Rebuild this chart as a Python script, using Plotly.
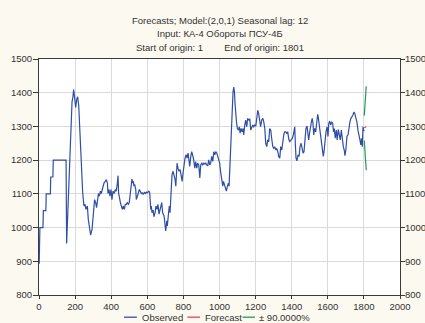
import plotly.graph_objects as go

obs_t = [1, 3, 5, 22, 24, 38, 40, 63, 65, 77, 79, 150, 153, 160, 168, 175, 183, 188, 192, 196,
         203, 209, 214, 220, 225, 231, 236, 242, 249, 255, 260, 268, 273, 279, 286, 294, 301, 308,
         314, 319, 325, 329, 334, 340, 345, 353, 360, 367, 373, 379, 382, 388, 393, 399, 404, 410,
         416, 423, 428, 434, 438, 441, 445, 451, 456, 462, 467, 473, 478, 484, 489, 495, 500, 506,
         512, 515, 519, 523, 526, 530, 536, 539, 545, 550, 556, 561, 567, 572, 578, 584, 589, 595,
         600, 608, 613, 619, 622, 626, 632, 637, 643, 648, 654, 659, 665,
         671, 680, 685, 693, 698, 702, 708, 711, 717, 722, 726, 732, 737, 743, 748, 754, 758, 761,
         765, 770, 776, 782, 787, 793, 798, 804, 809, 815, 820, 826, 831, 835, 841, 846, 852, 857,
         863, 868, 874, 879, 885, 891, 896, 902, 907, 913, 918, 924, 929, 935, 940, 946, 951, 957,
         963, 968, 974, 979, 985, 990, 996, 1001, 1007, 1012, 1018, 1022, 1027, 1033, 1038, 1044,
         1049, 1053, 1057, 1060, 1064, 1068, 1072, 1075, 1079, 1083, 1086, 1090, 1094, 1099, 1105,
         1110, 1114, 1120, 1125, 1131, 1134, 1140, 1145, 1151, 1156, 1162, 1168, 1173, 1179, 1184,
         1190, 1195, 1201, 1206, 1212, 1217, 1223, 1228, 1234, 1240, 1245, 1251, 1256, 1262, 1267,
         1273, 1278, 1284, 1289, 1295, 1301, 1306, 1312, 1317, 1323, 1328, 1334, 1339, 1345, 1350,
         1356, 1361, 1367, 1373, 1378, 1384, 1389,
         1394, 1404, 1409, 1417, 1420, 1424, 1429, 1435, 1441, 1446, 1452, 1457, 1463, 1468, 1474,
         1479, 1485, 1488, 1494, 1500, 1505, 1511, 1514, 1518, 1522, 1527, 1533, 1538, 1544, 1547,
         1553, 1558, 1564, 1570, 1575, 1579, 1584, 1590, 1596, 1601, 1605, 1610, 1616, 1621, 1627,
         1632, 1636, 1641, 1647, 1652, 1658, 1664, 1669, 1675, 1680, 1686, 1691, 1695, 1700, 1706,
         1712, 1717, 1723, 1728, 1734, 1739, 1745, 1750, 1756, 1761, 1767, 1773, 1778, 1783, 1787,
         1791, 1795, 1798, 1801]
obs_val = [893, 955, 1000, 1000, 1050, 1050, 1100, 1100, 1150, 1150, 1200, 1200, 953, 1050, 1182,
           1280, 1373, 1388, 1409, 1392, 1356, 1380, 1388, 1363, 1300, 1241, 1182, 1104, 1064, 1069,
           1054, 1064, 1025, 1005, 978, 995, 1034, 1083, 1074, 1059, 1083, 1101, 1093, 1108, 1101,
           1123, 1132, 1137, 1142, 1132, 1101, 1113, 1093, 1113, 1083, 1108, 1101, 1113, 1108, 1132,
           1154, 1103, 1088, 1074, 1064, 1054, 1064, 1054, 1069, 1069, 1074, 1069, 1074, 1103, 1132,
           1144, 1132, 1137, 1123, 1128, 1113, 1083, 1093, 1103, 1113, 1108, 1101, 1103, 1098, 1105,
           1101, 1105, 1103, 1108, 1105, 1054, 1064, 1044, 1052, 1032, 1044, 1064, 1054, 1069, 1040,
           1054, 1074, 1044, 1034, 1010, 990, 1020, 1005, 1039, 1064, 1044, 1103, 1157, 1167, 1157,
           1142, 1123, 1172, 1191, 1176, 1167, 1172, 1152, 1137, 1162, 1191, 1206, 1216, 1206, 1221,
           1196, 1181, 1211, 1225, 1213, 1201, 1176, 1196, 1176, 1191, 1186, 1147, 1186, 1191, 1186,
           1191, 1189, 1191, 1186, 1183, 1201, 1186, 1191, 1211, 1196, 1225, 1216, 1225, 1221, 1213,
           1201, 1191, 1162, 1137, 1123, 1137, 1127, 1118, 1108, 1123, 1132, 1123, 1172, 1230, 1294,
           1348, 1377, 1402, 1417, 1402, 1368, 1319, 1314, 1294, 1289, 1299, 1280, 1294, 1284, 1294,
           1275, 1304, 1319, 1299, 1324, 1319, 1321, 1289, 1299, 1304, 1299, 1304, 1301, 1328, 1348,
           1338, 1314, 1299, 1319, 1324, 1314, 1294, 1250, 1240, 1260, 1255, 1294, 1289, 1265, 1240,
           1235, 1240, 1230, 1235, 1225, 1211, 1206, 1240, 1230, 1260, 1275, 1284, 1284, 1280, 1284,
           1262, 1255,
           1258, 1265, 1275, 1299, 1250, 1206, 1198, 1216, 1211, 1240, 1250, 1230, 1221, 1225, 1270,
           1294, 1301, 1280, 1260, 1284, 1309, 1319, 1324, 1309, 1275, 1294, 1284, 1319, 1336, 1328,
           1304, 1270, 1260, 1230, 1211, 1225, 1255, 1284, 1299, 1270, 1307, 1316, 1304, 1314, 1309,
           1284, 1294, 1265, 1289, 1260, 1291, 1265, 1260, 1289, 1260, 1240, 1230, 1213, 1230, 1270,
           1275, 1299, 1314, 1324, 1328, 1333, 1343, 1338, 1324, 1314, 1289, 1265, 1260, 1245, 1265,
           1240, 1299, 1291, 1286]

fc_t = [1802, 1803, 1804, 1805, 1806, 1807, 1808, 1809, 1810, 1811, 1812, 1813]
fc_val = [1296, 1296, 1297, 1297, 1297, 1298, 1298, 1298, 1298, 1299, 1299, 1299]
upper_val = [1332, 1342, 1351, 1359, 1367, 1374, 1381, 1388, 1395, 1402, 1410, 1419]
lower_val = [1258, 1250, 1242, 1235, 1227, 1220, 1213, 1206, 1199, 1190, 1181, 1170]

title_lines = ["Forecasts; Model:(2,0,1) Seasonal lag: 12",
               "Input: КА-4 Обороты ПСУ-4Б",
               "Start of origin: 1\u00a0\u00a0\u00a0\u00a0\u00a0\u00a0\u00a0\u00a0End of origin: 1801"]
legend_names = ["Observed", "Forecast", "± 90.0000%"]
x_ticks = list(range(0, 2001, 200))
y_ticks = list(range(800, 1501, 100))

BLUE = "#2f4ea6"
RED = "#ee4050"
GREEN = "#1f9a55"
TXT = "#333333"
FONT = "Liberation Sans, Arial, sans-serif"

fig = go.Figure()
fig.add_trace(go.Scatter(x=obs_t, y=obs_val, mode="lines", name=legend_names[0],
                         line=dict(color=BLUE, width=1.2)))
fig.add_trace(go.Scatter(x=fc_t, y=upper_val, mode="lines", name=legend_names[2],
                         line=dict(color=GREEN, width=1.2), xaxis="x", yaxis="y2"))
fig.add_trace(go.Scatter(x=fc_t, y=lower_val, mode="lines", name=legend_names[2],
                         line=dict(color=GREEN, width=1.2), xaxis="x", yaxis="y2"))
fig.add_trace(go.Scatter(x=fc_t, y=fc_val, mode="lines", name=legend_names[1],
                         line=dict(color=RED, width=1.2), xaxis="x", yaxis="y2"))

tick_font = dict(family=FONT, size=9.5, color=TXT)
AX = "#3a3a3a"
GRID = "#dadada"

fig.update_layout(
    width=425, height=323,
    margin=dict(l=39, r=25, t=59, b=28, autoexpand=False),
    paper_bgcolor="#fcf9f0", plot_bgcolor="#ffffff",
    showlegend=False,
    xaxis=dict(range=[0, 2000], domain=[0, 1], tickvals=x_ticks, mirror=True, showline=True,
               linecolor=AX, gridcolor=GRID, zeroline=False, tickfont=tick_font,
               ticks="outside", ticklen=3, tickcolor=AX, automargin=False),
    yaxis=dict(range=[800, 1500], domain=[0, 1], tickvals=y_ticks, showline=True, linecolor=AX,
               gridcolor=GRID, zeroline=False, tickfont=tick_font,
               ticks="outside", ticklen=5, tickcolor=AX, automargin=False,
               ticklabelstandoff=-1),
    yaxis2=dict(range=[800, 1500], tickvals=y_ticks, overlaying="y", side="right", anchor="x",
                showgrid=False, showline=True, linecolor=AX, zeroline=False, tickfont=tick_font,
                ticks="outside", ticklen=4, tickcolor=AX, automargin=False,
                ticklabelstandoff=-2),
)

for txt, yy in zip(title_lines, [1.165, 1.108, 1.050]):
    fig.add_annotation(text=txt, x=0.5, y=yy, xref="paper", yref="paper", showarrow=False,
                       xanchor="center", yanchor="middle",
                       font=dict(family=FONT, size=9.5, color=TXT))

# legend (bottom): short coloured line samples + labels
leg_y = -0.094
leg_items = [(0.2355, 0.271, 0.2815, BLUE), (0.411, 0.446, 0.458, RED), (0.564, 0.598, 0.606, GREEN)]
for name, (x0, x1, xt, col) in zip(legend_names, leg_items):
    fig.add_shape(type="line", xref="paper", yref="paper", x0=x0, x1=x1, y0=leg_y, y1=leg_y,
                  line=dict(color=col, width=1.3))
    fig.add_annotation(text=name, x=xt, y=leg_y, xref="paper", yref="paper", showarrow=False,
                       xanchor="left", yanchor="middle", borderpad=0,
                       font=dict(family=FONT, size=9.5, color=TXT))

fig.write_html("out.html")
